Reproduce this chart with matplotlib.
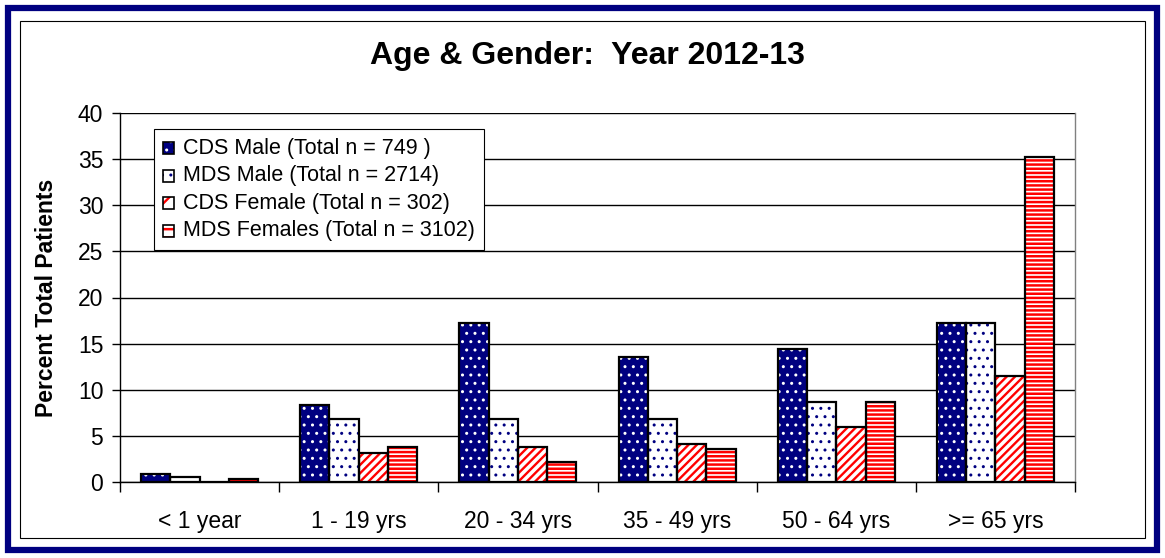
import matplotlib
matplotlib.use("Agg")
import matplotlib.pyplot as plt
import numpy as np
from matplotlib.patches import Rectangle
from matplotlib.legend_handler import HandlerBase

plt.rcParams['font.family'] = ['Liberation Sans', 'DejaVu Sans']

# datos
categorias = ['< 1 year', '1 - 19 yrs', '20 - 34 yrs', '35 - 49 yrs', '50 - 64 yrs', '>= 65 yrs']
cds_male = [0.9, 8.3, 17.2, 13.5, 14.4, 17.2]
mds_male = [0.5, 6.8, 6.8, 6.8, 8.7, 17.2]
cds_female = [0.0, 3.1, 3.8, 4.15, 6.0, 11.5]
mds_female = [0.3, 3.8, 2.2, 3.6, 8.7, 35.2]
etiquetas = ['CDS Male (Total n = 749 )', 'MDS Male (Total n = 2714)',
             'CDS Female (Total n = 302)', 'MDS Females (Total n = 3102)']

W, H = 1165, 558
fig = plt.figure(figsize=(W / 100, H / 100), dpi=100)

# marcos exteriores
fig.patches.append(Rectangle((8 / W, 8 / H), (W - 16) / W, (H - 16) / H, transform=fig.transFigure,
                             fill=False, edgecolor='#000080', linewidth=4.5))
fig.patches.append(Rectangle((20 / W, 20 / H), (W - 40) / W, (H - 41) / H, transform=fig.transFigure,
                             fill=False, edgecolor='black', linewidth=0.8))

ax = fig.add_axes([120 / W, 1 - 482 / H, (1075 - 120) / W, (482 - 113) / H])

x = np.arange(len(categorias))
ancho = 0.184
series = [
    (cds_male, '#000080', 'white', '..', 1.0),
    (mds_male, 'white', '#000080', '..', 1.0),
    (cds_female, 'white', 'red', '////', 1.7),
    (mds_female, 'white', 'red', '----', 1.8),
]
handles = []
for i, (vals, fondo, color_h, patron, lw_h) in enumerate(series):
    pos = x + (i - 1.5) * ancho
    ax.bar(pos, vals, ancho, color=fondo, edgecolor=color_h, hatch=patron,
           hatch_linewidth=lw_h, linewidth=0, zorder=3)
    ax.bar(pos, vals, ancho, fill=False, edgecolor='black', linewidth=1.6, zorder=4)
    handles.append(Rectangle((0, 0), 1, 1, facecolor=fondo, edgecolor=color_h, linewidth=0,
                             hatch=patron[:2], hatch_linewidth=lw_h))

ax.set_xlim(-0.5, len(categorias) - 0.5)
ax.set_ylim(0, 40)
ax.set_yticks(range(0, 41, 5))
ax.yaxis.grid(True, color='black', linewidth=1.0)
ax.set_axisbelow(True)
ax.set_xticks(x)
ax.set_xticklabels(categorias, fontsize=16.5)
ax.tick_params(axis='x', length=0, pad=20)
ax.set_xticks(np.arange(-0.5, len(categorias), 1), minor=True)
ax.tick_params(axis='x', which='minor', length=7, direction='out', width=1)
ax.tick_params(axis='y', length=6, width=1, labelsize=16.5, pad=6)
for s in ax.spines.values():
    s.set_color('black')
    s.set_linewidth(1)
ax.spines['top'].set_visible(False)
ax.spines['right'].set_color('#808080')

ax.set_ylabel('Percent Total Patients', fontsize=16.5, fontweight='bold', labelpad=14)
fig.text(587 / W, 1 - 64 / H, 'Age & Gender:  Year 2012-13', ha='center', va='baseline',
         fontsize=23, fontweight='bold')


# manijas de la leyenda: cuadrado con trama y borde negro
class HandlerCaja(HandlerBase):
    def create_artists(self, legend, orig, xd, yd, w, h, fs, trans):
        lado = min(w, h)
        x0, y0 = xd + (w - lado) / 2, yd + (h - lado) / 2
        r1 = Rectangle((x0, y0), lado, lado, facecolor=orig.get_facecolor(),
                       edgecolor=orig.get_edgecolor(), hatch=orig.get_hatch(), linewidth=0,
                       hatch_linewidth=orig.get_hatch_linewidth(), transform=trans)
        r2 = Rectangle((x0, y0), lado, lado, fill=False, edgecolor='black', linewidth=1.2, transform=trans)
        return [r1, r2]


leg = ax.legend(handles, etiquetas, loc='upper left', bbox_to_anchor=(34 / 955, 1 - 16 / 369),
                fontsize=15.5, frameon=True, fancybox=False, edgecolor='black', framealpha=1,
                handlelength=0.55, handleheight=0.55, handletextpad=0.4, labelspacing=0.3,
                borderpad=0.4, borderaxespad=0, handler_map={Rectangle: HandlerCaja()})
leg.get_frame().set_linewidth(0.8)
leg.set_zorder(10)

fig.savefig('out.png', dpi=100)
